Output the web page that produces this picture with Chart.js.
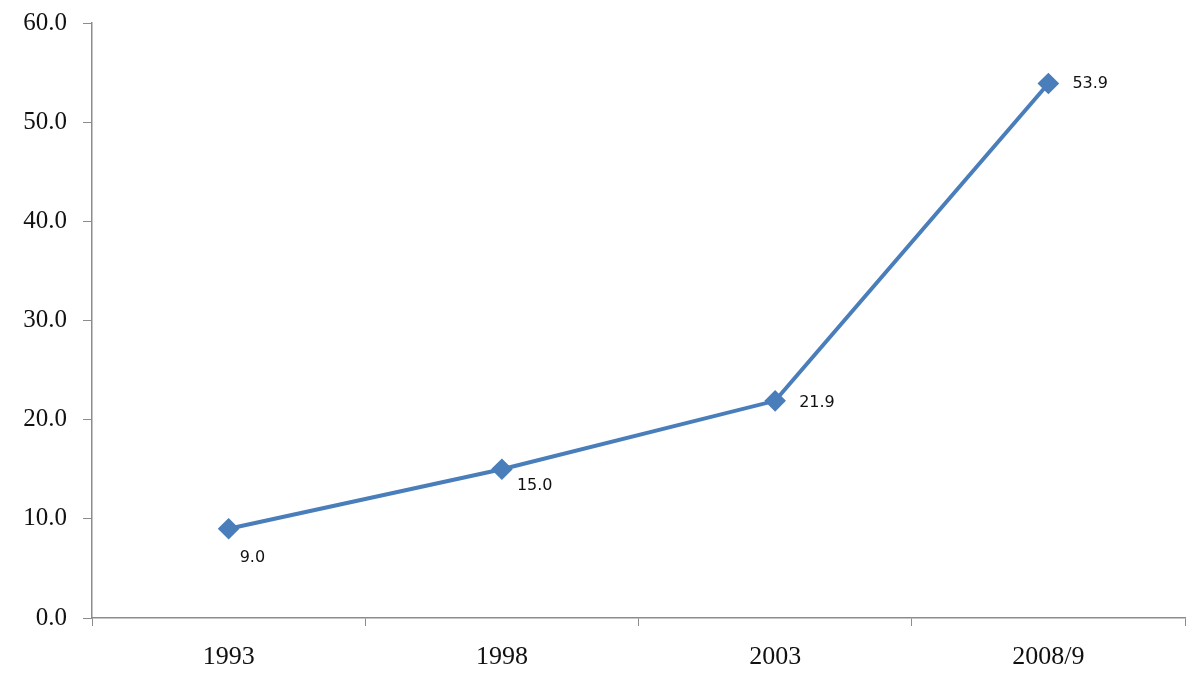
<!DOCTYPE html>
<html>
<head>
<meta charset="utf-8">
<script src="https://cdn.jsdelivr.net/npm/chart.js@4/dist/chart.umd.min.js"></script>
<style>
  html, body { margin: 0; padding: 0; background: #fff; }
  #wrap { width: 1200px; height: 686px; }
</style>
</head>
<body>
<div id="wrap"><canvas id="chart" width="1200" height="686"></canvas></div>
<script>
const years = ["1993", "1998", "2003", "2008/9"];
const values = [9.0, 15.0, 21.9, 53.9];
const yTicks = [0, 10, 20, 30, 40, 50, 60];

// label offsets from each point (dx, dy)
const labelOffsets = [[11, 29], [15, 17], [24, 2], [24, 0]];

const axisGrey = "#8c8c8c";
const lineBlue = "#4a7ebb";

const valueLabels = {
  id: "valueLabels",
  afterDatasetsDraw(chart) {
    const ctx = chart.ctx;
    const meta = chart.getDatasetMeta(0);
    ctx.save();
    ctx.font = "16px 'DejaVu Sans'";
    ctx.fillStyle = "#111";
    ctx.textBaseline = "middle";
    ctx.textAlign = "left";
    meta.data.forEach((pt, i) => {
      ctx.fillText(values[i].toFixed(1), pt.x + labelOffsets[i][0], pt.y + labelOffsets[i][1]);
    });
    ctx.restore();
  }
};

const ctx = document.getElementById("chart").getContext("2d");
new Chart(ctx, {
  type: "line",
  data: {
    labels: years,
    datasets: [{
      data: values,
      borderColor: lineBlue,
      backgroundColor: lineBlue,
      borderWidth: 4,
      pointStyle: "rectRot",
      pointRadius: 8,
      pointHoverRadius: 8,
      tension: 0,
      fill: false
    }]
  },
  options: {
    responsive: false,
    animation: false,
    layout: { padding: { top: 23, right: 15, left: 0, bottom: 0 } },
    plugins: {
      legend: { display: false },
      tooltip: { enabled: false }
    },
    scales: {
      x: {
        offset: true,
        grid: {
          offset: true,
          drawOnChartArea: false,
          drawTicks: true,
          tickLength: 8,
          color: axisGrey
        },
        border: { color: axisGrey, width: 1.5 },
        ticks: {
          color: "#111",
          padding: 16,
          font: { family: "'Liberation Serif', serif", size: 26 }
        },
        afterFit(scale) {
          scale.height = 68;
          scale.paddingLeft = 0;
          scale.paddingRight = 0;
        }
      },
      y: {
        min: 0,
        max: 60,
        afterBuildTicks(scale) { scale.ticks = yTicks.map(v => ({ value: v })); },
        grid: {
          drawOnChartArea: false,
          drawTicks: true,
          tickLength: 9,
          color: axisGrey
        },
        border: { color: axisGrey, width: 1.5 },
        ticks: {
          color: "#111",
          padding: 16,
          font: { family: "'Liberation Serif', serif", size: 25 },
          callback: v => Number(v).toFixed(1)
        },
        afterFit(scale) {
          scale.width = 92;
          scale.paddingTop = 0;
          scale.paddingBottom = 0;
        }
      }
    }
  },
  plugins: [valueLabels]
});
</script>
</body>
</html>
